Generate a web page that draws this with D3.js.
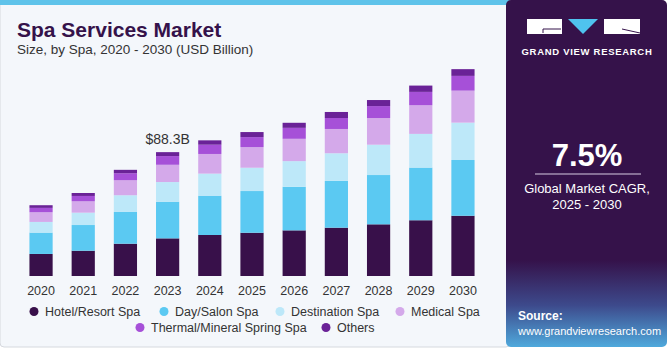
<!DOCTYPE html>
<html>
<head>
<meta charset="utf-8">
<script src="https://cdn.jsdelivr.net/npm/d3@7"></script>
<style>
  body { margin: 0; background: #ffffff; }
  svg { display: block; font-family: "Liberation Sans", Arial, sans-serif; }
</style>
</head>
<body>
<div id="chart"></div>
<script>
// data (USD billion)
const years = ["2020", "2021", "2022", "2023", "2024", "2025", "2026", "2027", "2028", "2029", "2030"];
const seriesNames = ["Hotel/Resort Spa", "Day/Salon Spa", "Destination Spa", "Medical Spa", "Thermal/Mineral Spring Spa", "Others"];
const hotelResort = [15.7, 18.0, 23.0, 26.8, 29.2, 30.8, 32.5, 34.4, 36.8, 39.7, 42.9];
const daySalon = [15.2, 18.3, 22.6, 26.1, 28.0, 29.7, 31.0, 33.3, 35.1, 37.5, 39.7];
const destination = [7.6, 8.8, 11.9, 14.0, 15.7, 16.6, 18.3, 19.7, 21.6, 24.0, 26.6];
const medical = [6.9, 8.1, 10.7, 12.3, 14.0, 14.7, 15.9, 17.3, 19.0, 20.4, 22.8];
const thermal = [3.1, 3.8, 5.0, 6.2, 6.6, 7.1, 7.8, 7.8, 8.5, 9.5, 10.5];
const others = [1.9, 2.1, 2.4, 2.8, 3.1, 3.6, 3.6, 4.3, 4.3, 4.5, 4.8];
const colors = ["#38104a", "#5bc9f2", "#bde8f9", "#d4a9ea", "#a650d8", "#6a2297"];

const width = 671, height = 350;
const svg = d3.select("#chart").append("svg")
    .attr("width", width)
    .attr("height", height);

// card background
svg.append("rect").attr("x", 0).attr("y", 0).attr("width", 510).attr("height", 347)
    .attr("rx", 4).attr("fill", "#f4f7fb").attr("stroke", "#d6d9de");
svg.append("rect").attr("x", 0).attr("y", 0).attr("width", 510).attr("height", 5)
    .attr("fill", "#5fc3ea");

// side panel
const grad = svg.append("defs").append("linearGradient")
    .attr("id", "panelGrad").attr("x1", 0).attr("y1", 0).attr("x2", 0).attr("y2", 1);
grad.append("stop").attr("offset", "0%").attr("stop-color", "#35124a");
grad.append("stop").attr("offset", "75%").attr("stop-color", "#35124a");
grad.append("stop").attr("offset", "88%").attr("stop-color", "#3d4a8c");
grad.append("stop").attr("offset", "100%").attr("stop-color", "#4fa9dc");
svg.append("rect").attr("x", 506).attr("y", 0).attr("width", 161).attr("height", 347)
    .attr("rx", 5).attr("fill", "url(#panelGrad)");

// logo
svg.append("rect").attr("x", 527).attr("y", 19).attr("width", 35).attr("height", 15).attr("fill", "#ffffff");
svg.append("path").attr("d", "M568,19 L598,19 L583,34 Z").attr("fill", "#4fc3ef");
svg.append("rect").attr("x", 604).attr("y", 19).attr("width", 36).attr("height", 15).attr("fill", "#ffffff");
svg.append("path").attr("d", "M543,29 L561,29 M543,29 L543,33").attr("stroke", "#35124a").attr("stroke-width", 1);
svg.append("path").attr("d", "M622,29 L640,33").attr("stroke", "#35124a").attr("stroke-width", 1);
svg.append("text").attr("x", 587).attr("y", 55).attr("text-anchor", "middle")
    .attr("fill", "#ffffff").style("font-size", "9.5px").style("font-weight", "bold")
    .style("letter-spacing", "0.7px").text("GRAND VIEW RESEARCH");

svg.append("text").attr("x", 587).attr("y", 166).attr("text-anchor", "middle")
    .attr("fill", "#ffffff").style("font-size", "31px").style("font-weight", "bold").text("7.5%");
svg.append("line").attr("x1", 535).attr("x2", 641).attr("y1", 174).attr("y2", 174)
    .attr("stroke", "#d8cce2").attr("stroke-width", 1);
svg.append("text").attr("x", 587).attr("y", 193).attr("text-anchor", "middle")
    .attr("fill", "#ffffff").style("font-size", "13px").text("Global Market CAGR,");
svg.append("text").attr("x", 587).attr("y", 209).attr("text-anchor", "middle")
    .attr("fill", "#ffffff").style("font-size", "13px").text("2025 - 2030");
svg.append("text").attr("x", 518).attr("y", 320)
    .attr("fill", "#ffffff").style("font-size", "12px").style("font-weight", "bold").text("Source:");
svg.append("text").attr("x", 518).attr("y", 335)
    .attr("fill", "#ffffff").style("font-size", "11px")
    .text("www.grandviewresearch.com");

// titles
svg.append("text").attr("x", 17).attr("y", 37)
    .attr("fill", "#35124a").style("font-size", "21px").style("font-weight", "bold")
    .text("Spa Services Market");
svg.append("text").attr("x", 17).attr("y", 54)
    .attr("fill", "#333333").style("font-size", "13.5px")
    .text("Size, by Spa, 2020 - 2030 (USD Billion)");

// stacked bars
const table = years.map((y, i) => ({
    year: y,
    s0: hotelResort[i], s1: daySalon[i], s2: destination[i],
    s3: medical[i], s4: thermal[i], s5: others[i]
}));
const keys = ["s0", "s1", "s2", "s3", "s4", "s5"];
const stacked = d3.stack().keys(keys)(table);

const x = d3.scaleBand().domain(years).range([21, 483]).paddingInner(0.45).paddingOuter(0.2);
const y = d3.scaleLinear().domain([0, 88.3]).range([276, 152]);

const g = svg.append("g");
g.selectAll(".layer")
    .data(stacked)
    .enter().append("g")
    .attr("class", "layer")
    .attr("fill", (d, i) => colors[i])
    .selectAll("rect")
    .data(d => d)
    .enter().append("rect")
    .attr("x", d => x(d.data.year))
    .attr("width", x.bandwidth())
    .attr("y", d => y(d[1]))
    .attr("height", d => y(d[0]) - y(d[1]));

// x axis labels
const axis = svg.append("g")
    .attr("transform", "translate(0,278)")
    .call(d3.axisBottom(x).tickSize(0).tickPadding(8));
axis.select(".domain").remove();
axis.selectAll("text").attr("fill", "#333333").style("font-size", "12.5px")
    .style("font-family", "\"Liberation Sans\", Arial, sans-serif");

// annotation on 2023
const total2023 = d3.sum(keys, k => table[3][k]);
svg.append("text")
    .attr("x", x("2023") + x.bandwidth() / 2)
    .attr("y", y(total2023) - 8)
    .attr("text-anchor", "middle")
    .attr("fill", "#333333").style("font-size", "14px")
    .text("$88.3B");

// legend
const legendRows = [
    [[0, 34], [1, 164], [2, 280], [3, 400]],
    [[4, 140], [5, 326]]
];
legendRows.forEach((row, r) => {
    const ly = 312 + r * 16;
    row.forEach(([idx, lx]) => {
        svg.append("circle").attr("cx", lx).attr("cy", ly - 0.5).attr("r", 4.5).attr("fill", colors[idx]);
        svg.append("text").attr("x", lx + 11).attr("y", ly + 4)
            .attr("fill", "#333333").style("font-size", "12.5px").text(seriesNames[idx]);
    });
});
</script>
</body>
</html>
